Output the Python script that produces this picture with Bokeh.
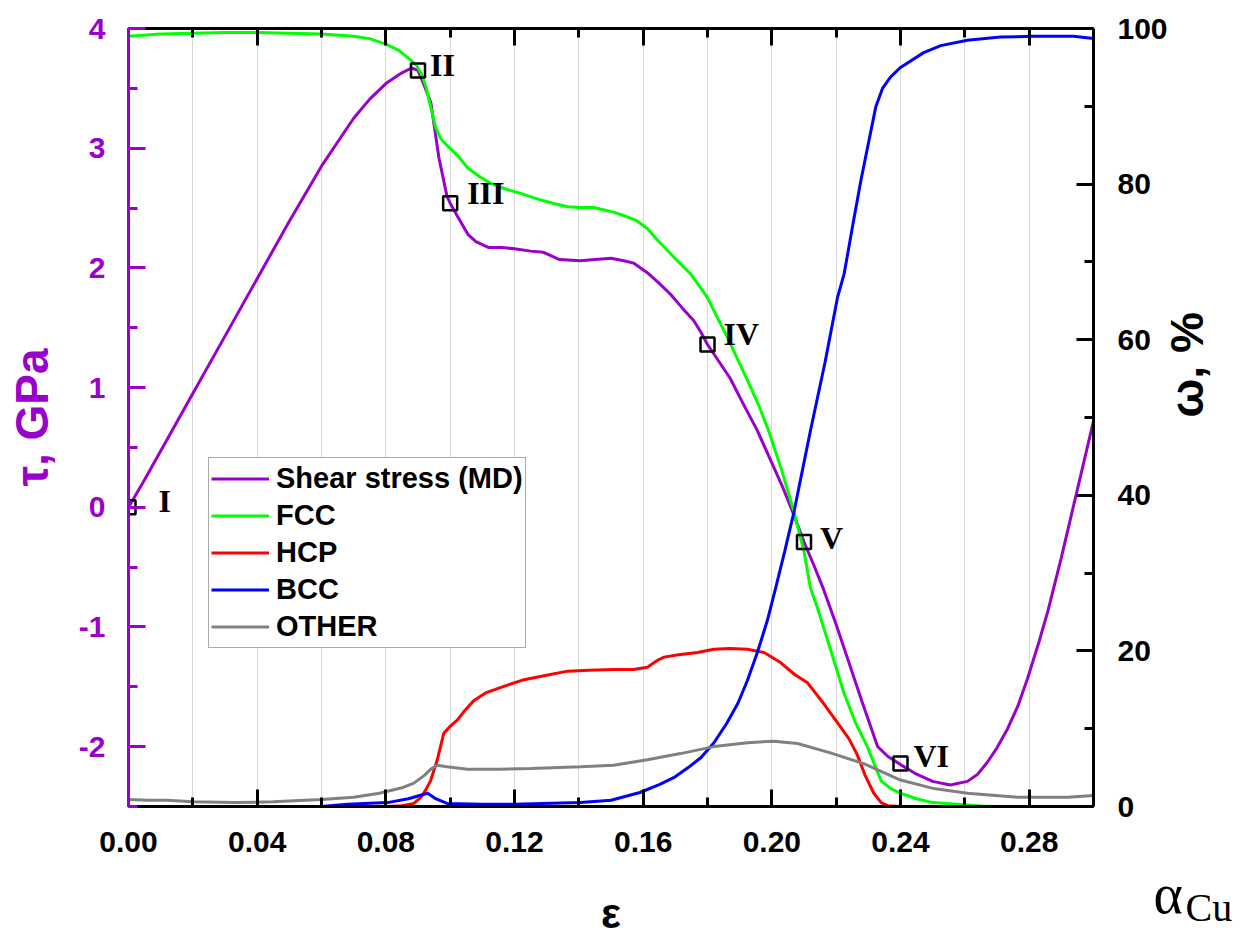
import math
from bokeh.plotting import figure
from bokeh.models import (Range1d, LinearAxis, SingleIntervalTicker, PrintfTickFormatter,
                          Legend, LegendItem, Grid, ColumnDataSource, CustomJSTickFormatter, Title)
from bokeh.embed import file_html
from bokeh.resources import INLINE
from bokeh.core.properties import value

# ---------------- data ----------------
eps_tau = [0.000, 0.005, 0.010, 0.020, 0.030, 0.040, 0.050, 0.060, 0.070, 0.075, 0.080, 0.085,
           0.088, 0.090, 0.092, 0.094, 0.0965, 0.099, 0.100, 0.1025, 0.1055, 0.108, 0.112, 0.116,
           0.120, 0.125, 0.129, 0.134, 0.1405, 0.145, 0.150, 0.154, 0.157, 0.1613, 0.165, 0.1685,
           0.172, 0.1757, 0.178, 0.180, 0.1835, 0.187, 0.191, 0.1955, 0.200, 0.2035, 0.2068, 0.210,
           0.213, 0.216, 0.220, 0.224, 0.228, 0.2329, 0.236, 0.240, 0.245, 0.250, 0.2555, 0.2608,
           0.264, 0.267, 0.270, 0.2733, 0.2765, 0.2795, 0.283, 0.2858, 0.290, 0.295, 0.300]
tau = [0.00, 0.23, 0.47, 0.95, 1.43, 1.91, 2.39, 2.85, 3.25, 3.41, 3.54, 3.63,
       3.67, 3.65, 3.52, 3.38, 2.92, 2.60, 2.54, 2.42, 2.28, 2.22, 2.17, 2.17,
       2.16, 2.14, 2.13, 2.07, 2.06, 2.07, 2.08, 2.06, 2.04, 1.96, 1.87, 1.78,
       1.67, 1.56, 1.46, 1.36, 1.22, 1.08, 0.87, 0.64, 0.37, 0.16, -0.06, -0.29,
       -0.48, -0.68, -0.98, -1.30, -1.62, -2.00, -2.08, -2.15, -2.23, -2.29, -2.32, -2.29,
       -2.23, -2.13, -2.01, -1.85, -1.66, -1.43, -1.13, -0.87, -0.42, 0.15, 0.72]

eps_fcc = [0.000, 0.010, 0.020, 0.030, 0.040, 0.050, 0.060, 0.070, 0.075, 0.080, 0.084, 0.087,
           0.0895, 0.091, 0.0925, 0.094, 0.0955, 0.097, 0.099, 0.1025, 0.1054, 0.109, 0.1126,
           0.117, 0.1219, 0.127, 0.1322, 0.1365, 0.1405, 0.1446, 0.1508, 0.155, 0.158, 0.1613,
           0.164, 0.1675, 0.171, 0.1747, 0.178, 0.180, 0.183, 0.1862, 0.1924, 0.196, 0.199,
           0.203, 0.2068, 0.210, 0.212, 0.2142, 0.218, 0.2225, 0.226, 0.2298, 0.232, 0.234,
           0.237, 0.240, 0.245, 0.250, 0.2608, 0.265, 0.270, 0.300]
fcc = [99.0, 99.3, 99.4, 99.5, 99.5, 99.4, 99.3, 99.0, 98.7, 98.0, 97.2, 96.2,
       95.3, 94.2, 92.5, 89.8, 87.3, 85.9, 85.0, 83.6, 82.1, 81.0, 80.1,
       79.4, 78.8, 78.1, 77.5, 77.1, 77.0, 77.0, 76.4, 75.8, 75.3, 74.3,
       73.0, 71.5, 70.0, 68.5, 66.6, 65.4, 62.9, 60.3, 54.8, 51.5, 48.3,
       43.3, 38.0, 32.8, 28.1, 25.5, 20.5, 14.5, 10.8, 7.6, 5.3, 3.3,
       2.3, 1.7, 1.0, 0.5, 0.2, 0.05, 0.0, 0.0]

eps_hcp = [0.000, 0.080, 0.085, 0.0887, 0.091, 0.0925, 0.0939, 0.096, 0.098, 0.100, 0.1022,
           0.1045, 0.1073, 0.111, 0.1178, 0.123, 0.128, 0.1365, 0.143, 0.1508, 0.157, 0.1613,
           0.1645, 0.1665, 0.171, 0.1769, 0.182, 0.187, 0.1924, 0.1976, 0.2027, 0.207, 0.2111,
           0.216, 0.2214, 0.224, 0.2266, 0.229, 0.2317, 0.234, 0.236, 0.240, 0.300]
hcp = [0.0, 0.0, 0.1, 0.4, 1.2, 2.2, 3.3, 6.0, 9.4, 10.3, 11.1,
       12.3, 13.6, 14.6, 15.6, 16.3, 16.7, 17.4, 17.5, 17.6, 17.6, 17.9,
       18.8, 19.2, 19.5, 19.8, 20.2, 20.3, 20.2, 19.8, 18.5, 17.0, 15.9,
       13.3, 10.2, 8.7, 6.6, 4.0, 1.7, 0.5, 0.1, 0.0, 0.0]

eps_bcc = [0.000, 0.060, 0.068, 0.0805, 0.087, 0.093, 0.0955, 0.099, 0.110, 0.120, 0.1405,
           0.150, 0.159, 0.165, 0.1695, 0.174, 0.178, 0.182, 0.186, 0.1895, 0.1924, 0.1955,
           0.1986, 0.2012, 0.204, 0.2068, 0.212, 0.2165, 0.2204, 0.2225, 0.2255, 0.2277,
           0.2323, 0.2344, 0.237, 0.240, 0.2472, 0.2525, 0.2608, 0.2711, 0.2814, 0.2938, 0.300]
bcc = [0.0, 0.0, 0.3, 0.5, 1.0, 1.7, 1.0, 0.4, 0.3, 0.3, 0.5,
       0.8, 1.8, 2.8, 3.7, 5.0, 6.3, 8.2, 10.7, 13.3, 16.2, 19.8,
       23.9, 28.1, 32.8, 37.7, 48.3, 57.0, 65.4, 68.5, 75.5, 80.5,
       89.9, 92.3, 93.8, 95.0, 96.9, 97.8, 98.5, 98.9, 99.0, 99.0, 98.7]

eps_oth = [0.000, 0.006, 0.012, 0.020, 0.033, 0.045, 0.060, 0.070, 0.078, 0.085, 0.0887,
           0.092, 0.094, 0.096, 0.099, 0.1054, 0.115, 0.125, 0.1405, 0.1508, 0.1613, 0.1716,
           0.182, 0.1924, 0.2006, 0.208, 0.2182, 0.2286, 0.240, 0.2504, 0.2608, 0.2764,
           0.292, 0.300]
oth = [0.9, 0.8, 0.8, 0.6, 0.5, 0.6, 0.9, 1.2, 1.7, 2.4, 3.0,
       4.0, 4.8, 5.3, 5.1, 4.8, 4.8, 4.9, 5.1, 5.3, 6.0, 6.8,
       7.7, 8.2, 8.4, 8.1, 6.9, 5.5, 3.4, 2.3, 1.7, 1.2,
       1.2, 1.4]

eps_mark = [0.0, 0.09, 0.10, 0.18, 0.21, 0.24]
tau_mark = [0.0, 3.65, 2.54, 1.36, -0.29, -2.14]
mark_text = ["I", "II", "III", "IV", "V", "VI"]

series_names = ["Shear stress (MD)", "FCC", "HCP", "BCC", "OTHER"]

# ---------------- styles ----------------
PURPLE = "#9900CC"
COLORS = [PURPLE, "#00FF00", "#FF0000", "#0000FF", "#808080"]
SANS = "Liberation Sans"
SERIF = "Liberation Serif"
label_dx = [30, 12, 17, 16, 16, 13]
label_dy = [-6, -5, -10, -10, -4, -7]

p = figure(width=1241, height=937, output_backend="svg", toolbar_location=None,
           x_range=Range1d(0, 0.30), y_range=Range1d(-2.5, 4.0),
           x_axis_location=None, y_axis_location=None,
           min_border_left=128, min_border_right=148, min_border_top=28, min_border_bottom=131)
p.extra_y_ranges = {"pct": Range1d(0, 100)}
p.outline_line_color = None
p.background_fill_color = "white"
p.border_fill_color = "white"
for g in p.grid:
    g.visible = False

p.add_layout(Grid(dimension=0, ticker=SingleIntervalTicker(interval=0.02),
                  grid_line_color="#d9d9d9", grid_line_width=1))


def style_axis(ax, color="black"):
    ax.axis_line_width = 3
    ax.axis_line_color = color
    ax.major_tick_line_color = color
    ax.minor_tick_line_color = color
    ax.major_tick_line_width = 3
    ax.minor_tick_line_width = 3
    ax.major_tick_in = 17
    ax.major_tick_out = 0
    ax.minor_tick_in = 9
    ax.minor_tick_out = 0
    ax.major_label_text_font = SANS
    ax.major_label_text_font_style = "bold"
    ax.major_label_text_font_size = "30px"
    ax.major_label_text_color = color


bottom = LinearAxis(ticker=SingleIntervalTicker(interval=0.04, num_minor_ticks=2),
                    formatter=PrintfTickFormatter(format="%.2f"))
style_axis(bottom)
bottom.major_label_standoff = 25
p.add_layout(bottom, "below")

top = LinearAxis(ticker=SingleIntervalTicker(interval=0.04, num_minor_ticks=2),
                 formatter=CustomJSTickFormatter(code="return ''"))
style_axis(top)
top.major_label_standoff = 0
p.add_layout(top, "above")

left = LinearAxis(ticker=SingleIntervalTicker(interval=1, num_minor_ticks=2),
                  formatter=PrintfTickFormatter(format="%d"))
style_axis(left, PURPLE)
left.major_label_standoff = 23
left.axis_label = "τ, GPa"
left.axis_label_text_font = SANS
left.axis_label_text_font_style = "bold"
left.axis_label_text_font_size = "46px"
left.axis_label_text_color = PURPLE
left.axis_label_standoff = 18
p.add_layout(left, "left")

right = LinearAxis(y_range_name="pct", ticker=SingleIntervalTicker(interval=20, num_minor_ticks=2),
                   formatter=PrintfTickFormatter(format="%d"))
style_axis(right)
right.major_label_standoff = 24
right.axis_label = "ω, %"
right.axis_label_text_font = SANS
right.axis_label_text_font_style = "bold"
right.axis_label_text_font_size = "46px"
right.axis_label_text_color = "black"
right.axis_label_standoff = 16
try:
    right.axis_label_orientation = math.pi / 2
except Exception:
    pass
p.add_layout(right, "right")

# texts below the frame: alpha_Cu in the corner and the epsilon axis title
t_alpha = Title(text="α", align="left", offset=1025, standoff=-43, vertical_align="bottom",
                text_font=SERIF, text_font_style="normal", text_font_size="56px", text_color="black")
try:
    t_alpha.padding = dict(top=28, right=0, bottom=0, left=0)
except Exception:
    t_alpha.standoff = -15
t_cu = Title(text="Cu", align="left", offset=1057, standoff=-41, vertical_align="bottom",
             text_font=SERIF, text_font_style="normal", text_font_size="40px", text_color="black")
t_eps = Title(text="ε", align="center", standoff=-43, vertical_align="bottom",
              text_font=SANS, text_font_style="bold", text_font_size="42px", text_color="black")
p.add_layout(t_alpha, "below")
p.add_layout(t_cu, "below")
p.add_layout(t_eps, "below")

# ---------------- curves ----------------
r_tau = p.line(eps_tau, tau, line_color=COLORS[0], line_width=3)
r_fcc = p.line(eps_fcc, fcc, line_color=COLORS[1], line_width=3, y_range_name="pct")
r_hcp = p.line(eps_hcp, hcp, line_color=COLORS[2], line_width=3, y_range_name="pct")
r_bcc = p.line(eps_bcc, bcc, line_color=COLORS[3], line_width=3, y_range_name="pct")
r_oth = p.line(eps_oth, oth, line_color=COLORS[4], line_width=3, y_range_name="pct")

p.scatter(eps_mark, tau_mark, marker="square", size=14, fill_color=None,
          line_color="black", line_width=2.5)
src = ColumnDataSource(dict(x=eps_mark, y=tau_mark, t=mark_text, dx=label_dx, dy=label_dy))
p.text(x="x", y="y", text="t", x_offset="dx", y_offset="dy", source=src,
       text_font=value(SERIF), text_font_style="bold", text_font_size="32px",
       text_align="left", text_baseline="alphabetic", text_color="black")

legend = Legend(items=[LegendItem(label=n, renderers=[r]) for n, r in
                       zip(series_names, [r_tau, r_fcc, r_hcp, r_bcc, r_oth])],
                location=(80, 158), margin=0, padding=2, spacing=0,
                glyph_width=58, glyph_height=37, label_height=37, label_standoff=7,
                label_text_font=SANS, label_text_font_style="bold", label_text_font_size="29px",
                label_text_color="black",
                border_line_color="#555555", border_line_width=1,
                background_fill_color="white", background_fill_alpha=1.0)
p.add_layout(legend)

open("out.html", "w").write(file_html(p, INLINE))
